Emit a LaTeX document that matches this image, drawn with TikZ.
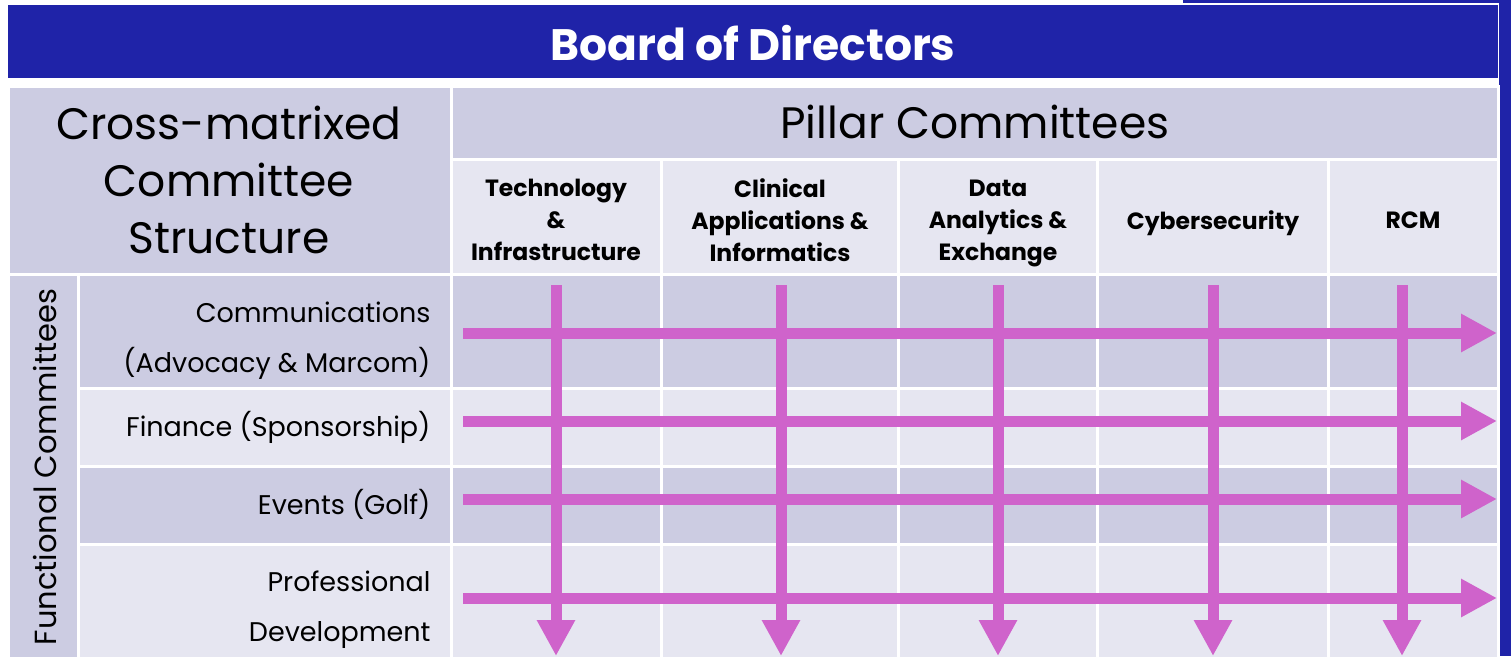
\documentclass[tikz,border=0pt]{standalone}
\usepackage{fontspec}
\setmainfont{Poppins}
\usetikzlibrary{arrows.meta}
\definecolor{hdrblue}{RGB}{31,35,168}
\definecolor{celldark}{RGB}{204,204,226}
\definecolor{celllight}{RGB}{230,230,241}
\definecolor{arrowpink}{RGB}{207,99,203}
\tikzset{
  darkcell/.style={fill=celldark,draw=white,line width=3pt},
  lightcell/.style={fill=celllight,draw=white,line width=3pt},
  bigtxt/.style={font=\fontsize{44}{57}\selectfont,align=center},
  subhdr/.style={font=\bfseries\fontsize{23.5}{32}\selectfont,align=center,text depth=0pt},
  rowtxt/.style={font=\fontsize{27}{50}\selectfont,align=right,anchor=east},
  matarrow/.style={draw=arrowpink,line width=11pt,-{Triangle[length=36pt,width=36pt]}},
}
\begin{document}
\begin{tikzpicture}[x=1pt,y=-1pt]
\useasboundingbox (0,0) rectangle (1511,656);
\fill[white] (0,0) rectangle (1511,656);
% slide decoration on right
\fill[hdrblue] (1183,0) rectangle (1511,3);
\fill[hdrblue] (1499,0) rectangle (1511,656);
% header
\fill[hdrblue] (8,5) rectangle (1498,78);
\node[text=white,font=\bfseries\fontsize{44}{48}\selectfont] (board) at (753,43) {Board of Directors};
% top cells
\path[darkcell] (8,86) rectangle (451,274);
\path[darkcell] (451,86) rectangle (1498,159);
\node[bigtxt] (cross) at (229,180) {Cross-matrixed\\Committee\\Structure};
\node[bigtxt] (pillar) at (975,122) {Pillar Committees};
% sub headers
\path[lightcell] (451,159) rectangle (661,274);
\path[lightcell] (661,159) rectangle (898,274);
\path[lightcell] (898,159) rectangle (1097,274);
\path[lightcell] (1097,159) rectangle (1328,274);
\path[lightcell] (1328,159) rectangle (1498,274);
\node[subhdr] (tech) at (556,220) {Technology\\\&\\Infrastructure};
\node[subhdr] (clin) at (780,220) {Clinical\\Applications \&\\Informatics};
\node[subhdr] (data) at (998,220) {Data\\Analytics \&\\Exchange};
\node[subhdr] (cyber) at (1213,220) {Cybersecurity};
\node[subhdr] (rcm) at (1413,220) {RCM};
% left column
\path[darkcell] (8,274) rectangle (78,662);
\node[rotate=90,font=\fontsize{30.5}{33}\selectfont] (func) at (45,467) {Functional Committees};
% body rows
\foreach \ya/\yb/\st in {274/388/darkcell,388/466/lightcell,466/544/darkcell,544/662/lightcell}{
  \foreach \xa/\xb in {78/451,451/661,661/898,898/1097,1097/1328,1328/1498}{
    \path[\st] (\xa,\ya) rectangle (\xb,\yb);
  }
}
\node[rowtxt] (comm) at (434,341) {Communications\\(Advocacy \& Marcom)};
\node[rowtxt] (fin) at (434,427) {Finance (Sponsorship)};
\node[rowtxt] (evt) at (434,504) {Events (Golf)};
\node[rowtxt] (prof) at (434,610) {Professional\\Development};
% arrow end points
\foreach \n/\y in {1/333,2/421,3/499,4/598}{
  \coordinate (hs\n) at (463,\y);
  \coordinate (he\n) at (1497,\y);
}
\foreach \n/\x in {1/556,2/781,3/998,4/1213,5/1402}{
  \coordinate (vs\n) at (\x,285);
  \coordinate (ve\n) at (\x,656);
}
\foreach \n in {1,...,5}{ \draw[matarrow] (vs\n) -- (ve\n); }
\foreach \n in {1,...,4}{ \draw[matarrow] (hs\n) -- (he\n); }
\end{tikzpicture}
\end{document}
